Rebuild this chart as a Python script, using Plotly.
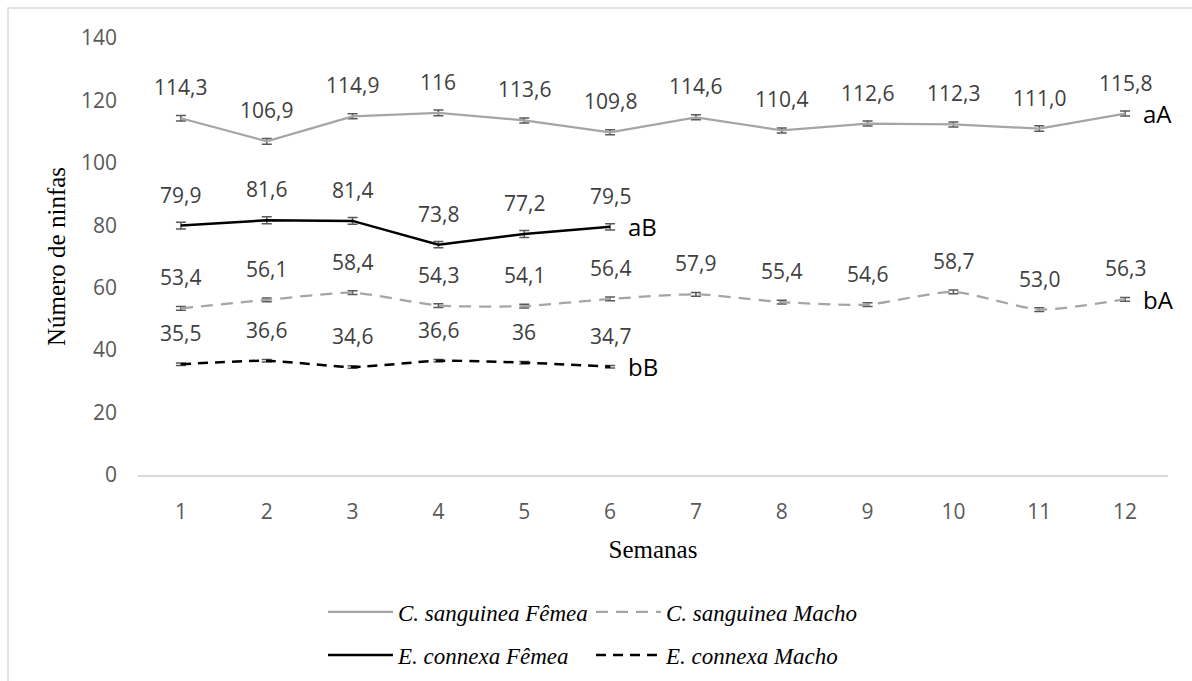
import plotly.graph_objects as go

# Weekly nymph counts per species and sex
semanas = [1, 2, 3, 4, 5, 6, 7, 8, 9, 10, 11, 12]
cs_femea = [114.3, 106.9, 114.9, 116.0, 113.6, 109.8, 114.6, 110.4, 112.6, 112.3, 111.0, 115.8]
cs_macho = [53.4, 56.1, 58.4, 54.3, 54.1, 56.4, 57.9, 55.4, 54.6, 58.7, 53.0, 56.3]
ec_femea = [79.9, 81.6, 81.4, 73.8, 77.2, 79.5]
ec_macho = [35.5, 36.6, 34.6, 36.6, 36.0, 34.7]

# Standard errors
cs_femea_err = [0.9, 0.9, 0.8, 0.9, 0.8, 0.8, 0.8, 0.8, 0.8, 0.8, 0.9, 0.8]
cs_macho_err = [0.6, 0.6, 0.6, 0.6, 0.6, 0.6, 0.6, 0.6, 0.6, 0.6, 0.6, 0.6]
ec_femea_err = [1.1, 1.1, 1.1, 1.0, 1.1, 1.0]
ec_macho_err = [0.4, 0.4, 0.4, 0.4, 0.4, 0.4]

# Decimal places shown in each point label
cs_femea_dec = [1, 1, 1, 0, 1, 1, 1, 1, 1, 1, 1, 1]
cs_macho_dec = [1] * 12
ec_femea_dec = [1] * 6
ec_macho_dec = [1, 1, 1, 1, 0, 1]

# Significance letters at the end of each series
letras = {"cs_femea": "aA", "ec_femea": "aB", "cs_macho": "bA", "ec_macho": "bB"}

GRAY = "#A5A5A5"
BLACK = "#000000"
ERR = "#595959"
SANS = "Open Sans"
SERIF = "Liberation Serif"


def fmt(v, d):
    return f"{v:.{d}f}".replace(".", ",")


series = [
    ("cs_femea", "<i>C. sanguinea Fêmea</i>", cs_femea, cs_femea_err, cs_femea_dec,
     dict(color=GRAY, width=2.25), "linear", "legend"),
    ("cs_macho", "<i>C. sanguinea Macho</i>", cs_macho, cs_macho_err, cs_macho_dec,
     dict(color=GRAY, width=2.25, dash="12px,8px"), "spline", "legend"),
    ("ec_femea", "<i>E. connexa Fêmea</i>", ec_femea, ec_femea_err, ec_femea_dec,
     dict(color=BLACK, width=2.5), "linear", "legend2"),
    ("ec_macho", "<i>E. connexa Macho</i>", ec_macho, ec_macho_err, ec_macho_dec,
     dict(color=BLACK, width=2.5, dash="10px,7px"), "spline", "legend2"),
]

fig = go.Figure()
annotations = []
for key, name, vals, errs, decs, line, shape, leg in series:
    xs = semanas[:len(vals)]
    line = dict(line)
    line["shape"] = shape
    if shape == "spline":
        line["smoothing"] = 0.6
    fig.add_trace(go.Scatter(
        x=xs, y=vals, name=name, mode="lines", line=line, legend=leg,
        error_y=dict(type="data", array=errs, visible=True,
                     color=ERR, thickness=1.5, width=5),
    ))
    for x, v, d in zip(xs, vals, decs):
        annotations.append(dict(
            x=x, y=v, xref="x", yref="y", text=fmt(v, d), showarrow=False,
            yshift=31, yanchor="middle", xanchor="center",
            font=dict(family=SANS, size=21, color="#404040"),
        ))
    annotations.append(dict(
        x=xs[-1], y=vals[-1], xref="x", yref="y", text=letras[key], showarrow=False,
        xanchor="left", yanchor="middle", xshift=16,
        font=dict(family=SANS, size=24, color="#000000"),
    ))

legend_style = dict(
    orientation="h", xanchor="left", yanchor="middle",
    font=dict(family=SERIF, size=23, color="#000000"),
    bgcolor="rgba(0,0,0,0)", itemwidth=65, entrywidth=188, tracegroupgap=0,
)

fig.update_layout(
    width=1192, height=681,
    margin=dict(l=138, r=24, t=38, b=206, autoexpand=False),
    paper_bgcolor="white", plot_bgcolor="white",
    showlegend=True,
    legend=dict(legend_style, x=0.1796, y=-0.3135),
    legend2=dict(legend_style, x=0.1796, y=-0.4119),
    annotations=annotations,
    shapes=[dict(type="rect", xref="paper", yref="paper",
                 x0=-0.1262, x1=1.3, y0=-0.8, y1=1.0686,
                 line=dict(color="#D9D9D9", width=1.5), layer="below")],
    xaxis=dict(
        range=[0.5, 12.5], tickmode="array", tickvals=semanas,
        ticktext=[str(s) for s in semanas],
        showgrid=False, zeroline=False, showline=True,
        linecolor="#D9D9D9", linewidth=1.5, ticks="",
        ticklabelstandoff=17, automargin=False,
        tickfont=dict(family=SANS, size=21, color="#595959"),
        title=dict(text="Semanas", font=dict(family=SERIF, size=25, color="#000000"),
                   standoff=17),
    ),
    yaxis=dict(
        range=[0, 140], tickmode="array", tickvals=[0, 20, 40, 60, 80, 100, 120, 140],
        showgrid=False, zeroline=False, showline=False, ticks="",
        ticklabelstandoff=20, automargin=False,
        tickfont=dict(family=SANS, size=21, color="#595959"),
        title=dict(text="Número de ninfas", font=dict(family=SERIF, size=25, color="#000000"),
                   standoff=8),
    ),
)

fig.write_html("out.html")
